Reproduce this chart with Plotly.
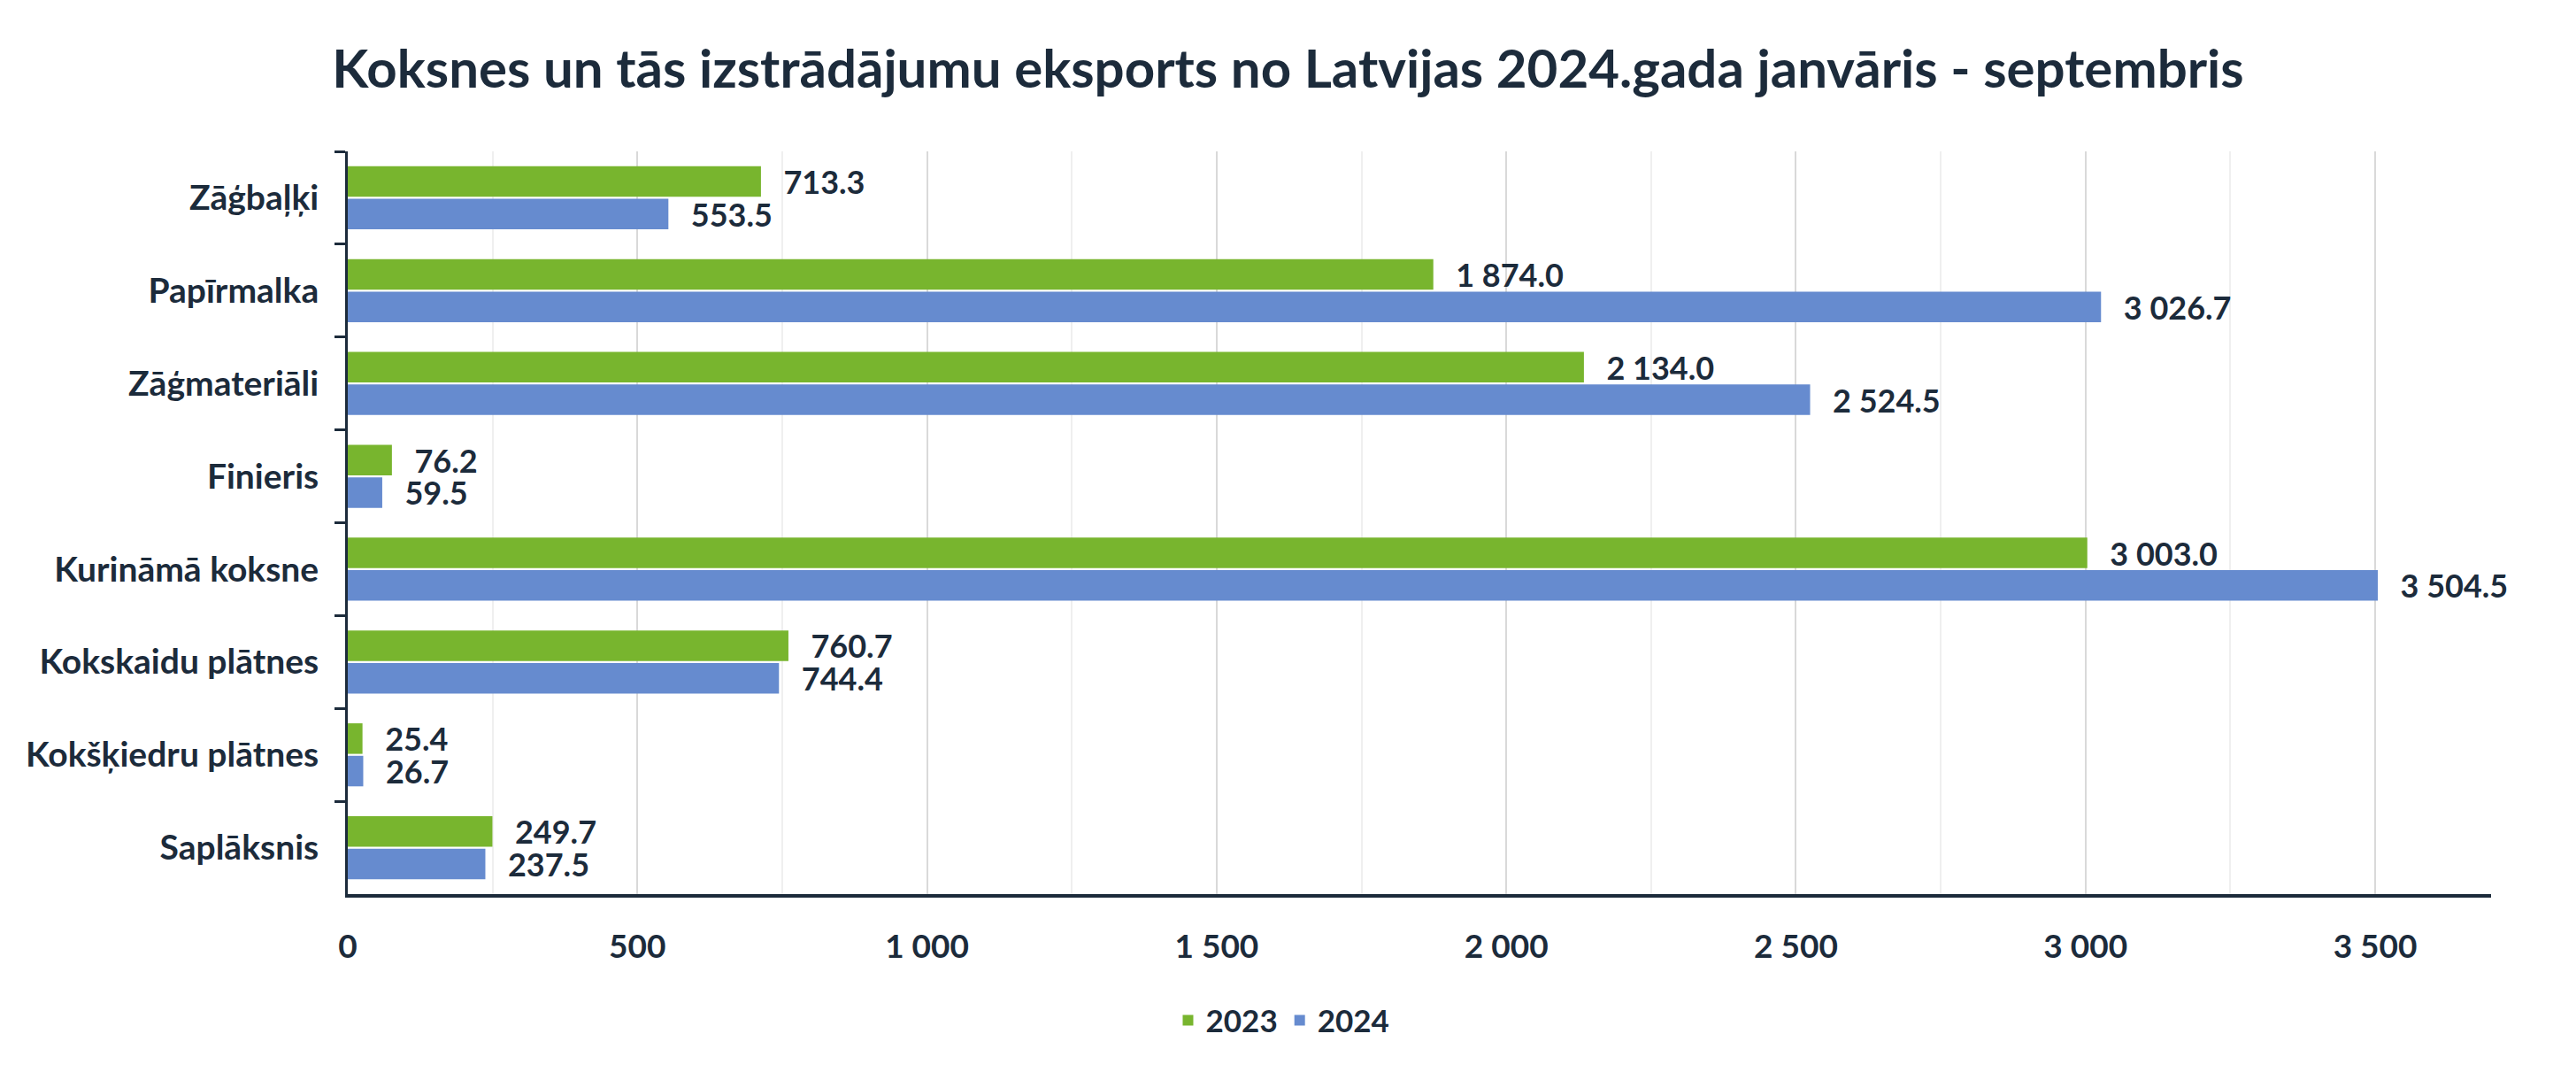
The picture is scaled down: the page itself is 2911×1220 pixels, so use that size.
import plotly.graph_objects as go

categories = ["Zāģbaļķi", "Papīrmalka", "Zāģmateriāli", "Finieris",
              "Kurināmā koksne", "Kokskaidu plātnes", "Kokšķiedru plātnes", "Saplāksnis"]
values_2023 = [713.3, 1874.0, 2134.0, 76.2, 3003.0, 760.7, 25.4, 249.7]
values_2024 = [553.5, 3026.7, 2524.5, 59.5, 3504.5, 744.4, 26.7, 237.5]
x_ticks = [0, 500, 1000, 1500, 2000, 2500, 3000, 3500]
title_text = "Koksnes un tās izstrādājumu eksports no Latvijas 2024.gada janvāris - septembris"

NAVY = "#1C2B3B"
GREEN = "#78B52E"
BLUE = "#668BCF"
FONT = "Lato"

fig = go.Figure()
for name, vals, col in [("2023", values_2023, GREEN), ("2024", values_2024, BLUE)]:
    fig.add_trace(go.Bar(
        y=categories, x=vals, name=name, orientation="h",
        marker=dict(color=col, line=dict(width=0)),
        texttemplate="\u2002\u2009%{x:,.1f}",
        textposition="outside",
        textfont=dict(family=FONT, size=36, color=NAVY, weight="bold"),
        constraintext="none",
        cliponaxis=False,
        hoverinfo="skip",
    ))

fig.update_layout(
    width=2911, height=1220,
    paper_bgcolor="white", plot_bgcolor="white",
    margin=dict(l=393, r=96, t=171, b=210),
    separators=". ",
    barmode="group", bargap=0.3, bargroupgap=0.06,
    font=dict(family=FONT, color=NAVY, size=37, weight="bold"),
    title=dict(text=title_text, x=0.5, xref="container", xanchor="center",
               y=1 - 78 / 1220, yref="container", yanchor="middle",
               font=dict(family=FONT, size=60, color=NAVY, weight="bold")),
    legend=dict(orientation="h", x=0.436, xanchor="center", y=-0.17, yanchor="middle",
                font=dict(family=FONT, size=35, color=NAVY, weight="bold"),
                traceorder="normal", itemwidth=30),
    showlegend=True,
)
fig.update_xaxes(
    range=[0, 3700], tickvals=x_ticks, tickformat=",d",
    showgrid=True, gridcolor="#D9D9D9", gridwidth=2,
    minor=dict(dtick=250, tick0=0, showgrid=True, gridcolor="#EFEFEF", gridwidth=2),
    showline=True, linecolor=NAVY, linewidth=4,
    zeroline=False, ticks="", ticklabelstandoff=24,
    tickfont=dict(family=FONT, size=37, color=NAVY, weight="bold"),
)
fig.update_yaxes(
    type="category", autorange="reversed",
    showline=True, linecolor=NAVY, linewidth=3,
    ticks="outside", ticklen=12, tickwidth=3, tickcolor=NAVY, tickson="boundaries",
    showgrid=False, ticklabelstandoff=22,
    tickfont=dict(family=FONT, size=39, color=NAVY, weight="bold"),
)

fig.write_html("out.html")
